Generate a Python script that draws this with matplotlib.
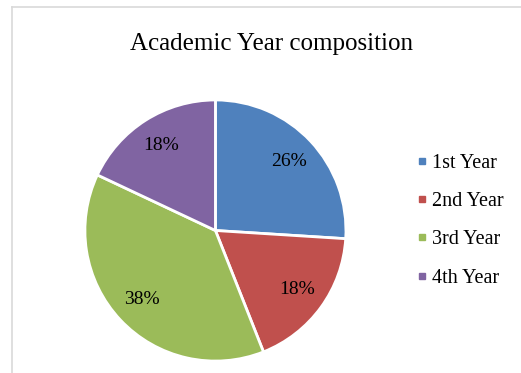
import matplotlib.pyplot as plt
from matplotlib.lines import Line2D

# academic year shares (%)
years = ["1st Year", "2nd Year", "3rd Year", "4th Year"]
shares = [26, 18, 38, 18]
colors = ["#4F81BD", "#C0504D", "#9BBB59", "#8064A2"]

plt.rcParams['font.family'] = ['Liberation Serif', 'DejaVu Serif']

fig = plt.figure(figsize=(5.21, 3.73), dpi=100)

# light chart-area frame (top and left edges show)
fig.add_artist(Line2D([12/521, 1], [1 - 7/373, 1 - 7/373], color="#d9d9d9", lw=1.2))
fig.add_artist(Line2D([12/521, 12/521], [0, 1 - 7/373], color="#d9d9d9", lw=1.2))

ax = fig.add_axes([0.163, 0.032, 0.501, 0.700])
wedges, texts, autotexts = ax.pie(
    shares, colors=colors, startangle=90, counterclock=False,
    autopct="%d%%", pctdistance=0.77,
    wedgeprops=dict(edgecolor="white", linewidth=2),
    textprops=dict(fontsize=14, color="black"))
ax.set_aspect("auto")
ax.set_xlim(-1, 1)
ax.set_ylim(-1, 1)

fig.text(0.522, 0.882, "Academic Year composition", ha="center", va="center", fontsize=18)

handles = [Line2D([], [], marker="s", linestyle="none", markersize=4.5,
                  markerfacecolor=c, markeredgecolor=c) for c in colors]
fig.legend(handles, years, loc="center left", bbox_to_anchor=(0.7975, 0.408),
           frameon=False, fontsize=14.5, handlelength=0.6, handletextpad=0.22,
           labelspacing=0.95, borderpad=0, borderaxespad=0)

fig.savefig("out.png", dpi=100)
